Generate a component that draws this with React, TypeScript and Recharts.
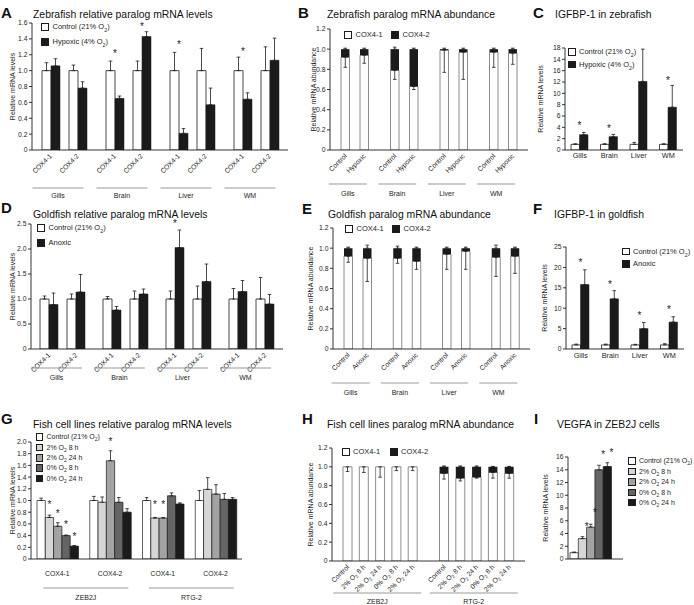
import React from "react";
import { BarChart, Bar, XAxis, YAxis, ErrorBar, LabelList, Legend } from "recharts";

const W = 694;
const H = 605;
const YW = 30;
const FONT = '"Liberation Sans", Arial, Helvetica, sans-serif';
const INK = "#1d1d1d";
const RULE = "#9a9a9a";
const EDGE = "#707070";
const WHITE = "#ffffff";
const BLACK = "#1b1b1b";
const SHADES = ["#ffffff", "#d6d6d6", "#a3a3a3", "#656565", "#1b1b1b"];

// categories and labels
const tissues = ["Gills", "Brain", "Liver", "WM"];
const paralogs = ["COX4-1", "COX4-2"];
const zfGroups = ["Control", "Hypoxic"];
const gfGroups = ["Control", "Anoxic"];
const zfNames = ["Control (21% O2)", "Hypoxic (4% O2)"];
const gfNames = ["Control (21% O2)", "Anoxic"];
const cellLines = ["ZEB2J", "RTG-2"];
const cellBars = ["COX4-1", "COX4-2", "COX4-1", "COX4-2"];
const cellBarLines = ["ZEB2J", "ZEB2J", "RTG-2", "RTG-2"];
const oxygenSeries = ["Control (21% O2)", "2% O2 8 h", "2% O2 24 h", "0% O2 8 h", "0% O2 24 h"];
const hTickLabels = ["Control", "2% O2 8 h", "2% O2 24 h", "0% O2 8 h", "2% O2 24 h"];

// y ticks
const ticksA = [0, 0.2, 0.4, 0.6, 0.8, 1.0, 1.2, 1.4, 1.6];
const ticksShare = [0, 0.2, 0.4, 0.6, 0.8, 1.0, 1.2];
const ticksC = [0, 2, 4, 6, 8, 10, 12, 14, 16, 18];
const tickLabelsC = ["0", "2", "4", "6", "8", "10", "12", "16", "14", "18"];
const ticksD = [0, 0.5, 1.0, 1.5, 2.0, 2.5];
const ticksF = [0, 5, 10, 15, 20, 25];
const ticksG = [0, 0.2, 0.4, 0.6, 0.8, 1.0, 1.2, 1.4, 1.6, 1.8, 2.0];
const ticksI = [0, 2, 4, 6, 8, 10, 12, 14, 16];

// A: zebrafish relative paralog levels
const zfCtl1 = [1.0, 1.0, 1.0, 1.0];
const zfCtl1Err = [0.1, 0.12, 0.23, 0.17];
const zfHyp1 = [1.06, 0.65, 0.21, 0.64];
const zfHyp1Err = [0.09, 0.03, 0.06, 0.08];
const zfCtl2 = [1.0, 1.0, 1.0, 1.0];
const zfCtl2Err = [0.07, 0.12, 0.28, 0.3];
const zfHyp2 = [0.78, 1.43, 0.57, 1.13];
const zfHyp2Err = [0.08, 0.06, 0.21, 0.28];
const zfStar1 = [null, 1.24, 1.35, 1.27];
const zfStar2 = [null, 1.58, null, null];

// B: zebrafish paralog share
const zfShareCtl1 = [0.92, 0.79, 0.99, 0.97];
const zfShareCtl1Err = [0.1, 0.09, 0.22, 0.15];
const zfShareCtl2 = [0.08, 0.21, 0.01, 0.03];
const zfShareCtl2Err = [0.01, 0.02, 0.01, 0.01];
const zfShareHyp1 = [0.94, 0.63, 0.97, 0.96];
const zfShareHyp1Err = [0.08, 0.03, 0.27, 0.11];
const zfShareHyp2 = [0.06, 0.37, 0.03, 0.04];
const zfShareHyp2Err = [0.01, 0.01, 0.01, 0.01];

// C: IGFBP-1 zebrafish
const zfIgCtl = [1.0, 1.0, 1.0, 1.0];
const zfIgCtlErr = [0.1, 0.1, 0.35, 0.1];
const zfIgHyp = [2.7, 2.35, 12.1, 7.55];
const zfIgHypErr = [0.4, 0.4, 5.7, 3.85];
const zfIgStar = [4.7, 4.2, null, 12.65];

// D: goldfish relative paralog levels
const gfCtl1 = [1.0, 1.0, 1.0, 1.0];
const gfCtl1Err = [0.06, 0.05, 0.16, 0.21];
const gfAnx1 = [0.89, 0.78, 2.03, 1.15];
const gfAnx1Err = [0.23, 0.07, 0.35, 0.22];
const gfCtl2 = [1.0, 1.0, 1.0, 1.0];
const gfCtl2Err = [0.1, 0.16, 0.26, 0.43];
const gfAnx2 = [1.14, 1.1, 1.35, 0.9];
const gfAnx2Err = [0.35, 0.1, 0.35, 0.19];
const gfStar1 = [null, null, 2.55, null];
const gfStar2 = [null, null, null, null];

// E: goldfish paralog share
const gfShareCtl1 = [0.92, 0.9, 0.94, 0.91];
const gfShareCtl1Err = [0.06, 0.05, 0.15, 0.19];
const gfShareCtl2 = [0.08, 0.1, 0.06, 0.09];
const gfShareCtl2Err = [0.01, 0.02, 0.01, 0.03];
const gfShareAnx1 = [0.9, 0.87, 0.97, 0.92];
const gfShareAnx1Err = [0.23, 0.08, 0.18, 0.17];
const gfShareAnx2 = [0.1, 0.13, 0.03, 0.08];
const gfShareAnx2Err = [0.03, 0.01, 0.01, 0.01];

// F: IGFBP-1 goldfish
const gfIgCtl = [1.0, 1.0, 1.0, 1.0];
const gfIgCtlErr = [0.2, 0.2, 0.15, 0.3];
const gfIgAnx = [15.8, 12.3, 5.0, 6.6];
const gfIgAnxErr = [3.6, 2.0, 1.5, 1.3];
const gfIgStar = [21.8, 16.3, 8.8, 10.1];

// G: fish cell lines relative levels
const gCtl = [1.0, 1.0, 1.0, 1.0];
const gCtlErr = [0.04, 0.07, 0.05, 0.17];
const gHyp8 = [0.71, 0.97, 0.7, 1.19];
const gHyp8Err = [0.04, 0.09, 0.01, 0.2];
const gHyp24 = [0.56, 1.68, 0.7, 1.11];
const gHyp24Err = [0.06, 0.17, 0.01, 0.16];
const gAnox8 = [0.4, 0.97, 1.08, 1.02];
const gAnox8Err = [0.01, 0.08, 0.05, 0.1];
const gAnox24 = [0.22, 0.8, 0.94, 1.02];
const gAnox24Err = [0.01, 0.06, 0.02, 0.03];
const gCtlStar = [null, null, null, null];
const gHyp8Star = [0.97, null, 0.97, null];
const gHyp24Star = [0.82, 2.05, 0.97, null];
const gAnox8Star = [0.63, null, null, null];
const gAnox24Star = [0.42, null, null, null];

// H: cell line paralog share (per condition)
const zebCox1 = [1.0, 1.0, 1.0, 1.0, 1.0];
const zebCox1Err = [0.05, 0.06, 0.11, 0.04, 0.04];
const zebCox2 = [0, 0, 0, 0, 0];
const zebCox2Err = [0, 0, 0, 0, 0];
const rtgCox1 = [0.93, 0.88, 0.89, 0.94, 0.93];
const rtgCox1Err = [0.06, 0.03, 0.01, 0.06, 0.05];
const rtgCox2 = [0.07, 0.12, 0.11, 0.06, 0.07];
const rtgCox2Err = [0.01, 0.01, 0.01, 0.005, 0.005];

// I: VEGFA in ZEB2J
const vegfMean = [1.0, 3.2, 5.0, 14.0, 14.5];
const vegfErr = [0.1, 0.3, 0.45, 0.7, 0.6];
const vegfStar = [null, 5.4, 7.6, 16.8, 17.0];

// ---- rows ----
const pairRows = (c1: number[], c1e: number[], t1: number[], t1e: number[], c2: number[], c2e: number[], t2: number[], t2e: number[], s1: any[], s2: any[]) =>
  tissues.map((name, i) => ({
    name,
    ctl1: c1[i], ctl1Err: [0, c1e[i]],
    trt1: t1[i], trt1Err: [0, t1e[i]],
    gap: 0,
    ctl2: c2[i], ctl2Err: [0, c2e[i]],
    trt2: t2[i], trt2Err: [0, t2e[i]],
    star1: s1[i], star2: s2[i],
  }));

const shareRows = (c1: number[], c1e: number[], c2: number[], c2e: number[], t1: number[], t1e: number[], t2: number[], t2e: number[]) =>
  tissues.map((name, i) => ({
    name,
    ctl1: c1[i], ctl1Err: [c1e[i], 0],
    ctl2: c2[i], ctl2Err: [0, c2e[i]],
    trt1: t1[i], trt1Err: [t1e[i], 0],
    trt2: t2[i], trt2Err: [0, t2e[i]],
  }));

const twoRows = (c: number[], ce: number[], t: number[], te: number[], s: any[]) =>
  tissues.map((name, i) => ({ name, ctl: c[i], ctlErr: [0, ce[i]], trt: t[i], trtErr: [0, te[i]], star: s[i] }));

const rowsA = pairRows(zfCtl1, zfCtl1Err, zfHyp1, zfHyp1Err, zfCtl2, zfCtl2Err, zfHyp2, zfHyp2Err, zfStar1, zfStar2);
const rowsB = shareRows(zfShareCtl1, zfShareCtl1Err, zfShareCtl2, zfShareCtl2Err, zfShareHyp1, zfShareHyp1Err, zfShareHyp2, zfShareHyp2Err);
const rowsC = twoRows(zfIgCtl, zfIgCtlErr, zfIgHyp, zfIgHypErr, zfIgStar);
const rowsD = pairRows(gfCtl1, gfCtl1Err, gfAnx1, gfAnx1Err, gfCtl2, gfCtl2Err, gfAnx2, gfAnx2Err, gfStar1, gfStar2);
const rowsE = shareRows(gfShareCtl1, gfShareCtl1Err, gfShareCtl2, gfShareCtl2Err, gfShareAnx1, gfShareAnx1Err, gfShareAnx2, gfShareAnx2Err);
const rowsF = twoRows(gfIgCtl, gfIgCtlErr, gfIgAnx, gfIgAnxErr, gfIgStar);

const gMeans = [gCtl, gHyp8, gHyp24, gAnox8, gAnox24];
const gErrs = [gCtlErr, gHyp8Err, gHyp24Err, gAnox8Err, gAnox24Err];
const gStars = [gCtlStar, gHyp8Star, gHyp24Star, gAnox8Star, gAnox24Star];
const rowsG = cellBars.map((gene, i) => {
  const row: any = { name: `${cellBarLines[i]} ${gene}` };
  gMeans.forEach((m, k) => {
    row[`s${k}`] = m[i];
    row[`s${k}Err`] = [0, gErrs[k][i]];
    row[`s${k}Star`] = gStars[k][i];
  });
  return row;
});

const lineShares = [
  [zebCox1, zebCox1Err, zebCox2, zebCox2Err],
  [rtgCox1, rtgCox1Err, rtgCox2, rtgCox2Err],
];
const rowsH = cellLines.map((name, j) => {
  const [a, ae, b, be] = lineShares[j];
  const row: any = { name };
  hTickLabels.forEach((_, k) => {
    row[`c${k}a`] = a[k];
    row[`c${k}aErr`] = [ae[k], 0];
    row[`c${k}b`] = b[k];
    row[`c${k}bErr`] = [0, be[k]];
  });
  return row;
});

const rowsI = [cellLines[0]].map((name) => {
  const row: any = { name };
  vegfMean.forEach((v, k) => {
    row[`s${k}`] = v;
    row[`s${k}Err`] = [0, vegfErr[k]];
    row[`s${k}Star`] = vegfStar[k];
  });
  return row;
});

// ---- layout helpers ----
type Box = { x: number; y: number; w: number; h: number };
const frame = (b: Box) => ({
  margin: { top: b.y, left: b.x - YW, right: W - b.x - b.w, bottom: 0 },
  xh: H - b.y - b.h,
});

const boxA = { x: 32, y: 23, w: 256, h: 127 };
const boxB = { x: 330, y: 29, w: 198, h: 121 };
const boxC = { x: 565, y: 48, w: 118, h: 102 };
const boxD = { x: 31, y: 224, w: 252, h: 125 };
const boxE = { x: 333, y: 228, w: 197, h: 121 };
const boxF = { x: 566, y: 247, w: 118, h: 102 };
const boxG = { x: 31, y: 442, w: 211, h: 117 };
const boxH = { x: 332, y: 448, w: 193, h: 113 };
const boxI = { x: 568, y: 457, w: 55, h: 102 };

const fmt1 = (v: number) => (v === 0 ? "0" : v.toFixed(1));
const fmtInt = (v: number) => String(v);
const fmtC = (v: number) => tickLabelsC[ticksC.indexOf(v)] ?? String(v);

const axisLine = { stroke: INK, strokeWidth: 0.9 };
const errProps = { width: 1.8, stroke: INK, strokeWidth: 0.8 };

const yAxisProps = (ticks: number[], fmt: (v: number) => string) => ({
  type: "number" as const,
  domain: [ticks[0], ticks[ticks.length - 1]],
  ticks,
  interval: 0 as const,
  width: YW,
  tickSize: 3,
  tickMargin: 1.5,
  tickFormatter: fmt,
  tick: { fontSize: 6.8, fill: INK, fontFamily: FONT },
  axisLine,
  tickLine: axisLine,
  allowDataOverflow: true,
});

function htmlO2(s: string) {
  const parts = s.split("O2");
  return parts.map((p, i) => (
    <React.Fragment key={i}>
      {p}
      {i < parts.length - 1 && (
        <>
          O<sub style={{ fontSize: "0.7em", lineHeight: 0 }}>2</sub>
        </>
      )}
    </React.Fragment>
  ));
}

function svgO2(s: string) {
  const parts = s.split("O2");
  if (parts.length === 1) return s;
  const out: React.ReactNode[] = [];
  parts.forEach((p, i) => {
    out.push(
      <tspan key={`t${i}`} dy={i === 0 ? 0 : -1.5}>
        {p + (i < parts.length - 1 ? "O" : "")}
      </tspan>
    );
    if (i < parts.length - 1) {
      out.push(
        <tspan key={`s${i}`} fontSize="0.72em" dy={1.5}>
          2
        </tspan>
      );
    }
  });
  return out;
}

// legend entries are picked from the payload by series name, in the order given
const swatches = (names: string[], dir: "row" | "column", rowH: number, sq: number, fs: number, gap: number) =>
  function SwatchLegend(props: any) {
    const payload: any[] = props.payload ?? [];
    const items = names.map((n) => payload.find((e) => e.value === n)).filter(Boolean);
    return (
      <div style={{ display: "flex", flexDirection: dir, columnGap: gap, fontFamily: FONT, fontSize: fs, color: INK, whiteSpace: "nowrap", lineHeight: 1 }}>
        {items.map((e: any) => (
          <div key={String(e.value)} style={{ display: "flex", alignItems: "center", height: rowH }}>
            <span style={{ width: sq, height: sq, background: e.color, border: `0.8px solid ${INK}`, boxSizing: "border-box", marginRight: 3.5, flex: "none" }} />
            <span>{htmlO2(String(e.value))}</span>
          </div>
        ))}
      </div>
    );
  };

const legendAt = (left: number, top: number) => ({ left, top, width: "auto" });

// asterisk placed from the bar's own scale
const starOf = (starKey: string, barKey: string) => (d: any) => (d[starKey] == null ? null : [d[starKey], d[barKey]]);
const starLabel = (where: "edge" | "mid") =>
  function Star(p: any) {
    const v = p.value;
    if (!Array.isArray(v)) return null;
    const [level, bar] = v;
    const vb = p.viewBox ?? p;
    if (!vb || !bar) return null;
    const bottom = vb.y + vb.height;
    const cy = bottom - (vb.height / bar) * level;
    const cx = where === "edge" ? vb.x + vb.width : vb.x + vb.width / 2;
    return (
      <text x={cx} y={cy + 5.6} textAnchor="middle" fontSize={10} fill={INK} fontFamily={FONT}>
        *
      </text>
    );
  };

const groupTick = (subs: string[], step: number, lineFrom: number, lineTo: number, lineDy: number, nameDy: number) =>
  function GroupTick(p: any) {
    const { x, y } = p;
    const n = subs.length;
    return (
      <g>
        {subs.map((s, i) => (
          <text
            key={i}
            transform={`translate(${x + (i - (n - 1) / 2) * step + 2},${y + 6.5}) rotate(-45)`}
            textAnchor="end"
            fontSize={6.8}
            fill={INK}
            fontFamily={FONT}
          >
            {svgO2(s)}
          </text>
        ))}
        <line x1={x + lineFrom} x2={x + lineTo} y1={y + lineDy} y2={y + lineDy} stroke={RULE} strokeWidth={1.2} />
        <text x={x + (lineFrom + lineTo) / 2} y={y + nameDy} textAnchor="middle" fontSize={7} fill={INK} fontFamily={FONT}>
          {p.payload?.value}
        </text>
      </g>
    );
  };

function CellTick(p: any) {
  const i = p.index ?? p.payload?.index ?? 0;
  const first = i % 2 === 0;
  return (
    <g fontFamily={FONT} fill={INK}>
      <text x={p.x} y={p.y + 17} textAnchor="middle" fontSize={6.8}>
        {cellBars[i]}
      </text>
      {first && (
        <>
          <line x1={p.x - 14} x2={p.x + 71} y1={p.y + 29} y2={p.y + 29} stroke={RULE} strokeWidth={1.2} />
          <text x={p.x + 28.5} y={p.y + 41} textAnchor="middle" fontSize={7}>
            {cellBarLines[i]}
          </text>
        </>
      )}
    </g>
  );
}

const Layer = ({ children }: any) => <div style={{ position: "absolute", left: 0, top: 0 }}>{children}</div>;

// ---- panels ----
function PairedPanel({ rows, box, ticks, names, legend, lineDy, nameDy }: any) {
  const f = frame(box);
  return (
    <Layer>
      <BarChart width={W} height={H} data={rows} margin={f.margin} barSize={9} barGap={0}>
        <XAxis dataKey="name" height={f.xh} interval={0} tickLine={false} tickSize={0} tickMargin={0} axisLine={axisLine}
          tick={groupTick(paralogs, 27, -31.5, 19.5, lineDy, nameDy)} />
        <YAxis {...yAxisProps(ticks, fmt1)} />
        <Legend layout="horizontal" verticalAlign="middle" align="center" wrapperStyle={legend} content={swatches(names, "column", 14.5, 8, 7.5, 0)} />
        <Bar dataKey="ctl1" name={names[0]} fill={WHITE} stroke={INK} strokeWidth={0.8} isAnimationActive={false}>
          <ErrorBar dataKey="ctl1Err" {...errProps} />
          <LabelList dataKey={starOf("star1", "ctl1")} content={starLabel("edge")} />
        </Bar>
        <Bar dataKey="trt1" name={names[1]} fill={BLACK} stroke={BLACK} strokeWidth={0.5} isAnimationActive={false}>
          <ErrorBar dataKey="trt1Err" {...errProps} />
        </Bar>
        <Bar dataKey="gap" fill="none" legendType="none" isAnimationActive={false} />
        <Bar dataKey="ctl2" fill={WHITE} stroke={INK} strokeWidth={0.8} legendType="none" isAnimationActive={false}>
          <ErrorBar dataKey="ctl2Err" {...errProps} />
          <LabelList dataKey={starOf("star2", "ctl2")} content={starLabel("edge")} />
        </Bar>
        <Bar dataKey="trt2" fill={BLACK} stroke={BLACK} strokeWidth={0.5} legendType="none" isAnimationActive={false}>
          <ErrorBar dataKey="trt2Err" {...errProps} />
        </Bar>
      </BarChart>
    </Layer>
  );
}

function SharePanel({ rows, box, groups, legend }: any) {
  const f = frame(box);
  return (
    <Layer>
      <BarChart width={W} height={H} data={rows} margin={f.margin} barSize={8.5} barGap={10.5}>
        <XAxis dataKey="name" height={f.xh} interval={0} tickLine={false} tickSize={0} tickMargin={0} axisLine={axisLine}
          tick={groupTick(groups, 19, -26, 12, 34, 45.5)} />
        <YAxis {...yAxisProps(ticksShare, fmt1)} />
        <Legend layout="horizontal" verticalAlign="middle" align="center" wrapperStyle={legend} content={swatches(paralogs, "row", 14, 8, 7.5, 8.5)} />
        <Bar dataKey="ctl1" stackId="ctl" name={paralogs[0]} fill={WHITE} stroke={EDGE} strokeWidth={0.8} isAnimationActive={false}>
          <ErrorBar dataKey="ctl1Err" {...errProps} />
        </Bar>
        <Bar dataKey="ctl2" stackId="ctl" name={paralogs[1]} fill={BLACK} isAnimationActive={false}>
          <ErrorBar dataKey="ctl2Err" {...errProps} />
        </Bar>
        <Bar dataKey="trt1" stackId="trt" legendType="none" fill={WHITE} stroke={EDGE} strokeWidth={0.8} isAnimationActive={false}>
          <ErrorBar dataKey="trt1Err" {...errProps} />
        </Bar>
        <Bar dataKey="trt2" stackId="trt" legendType="none" fill={BLACK} isAnimationActive={false}>
          <ErrorBar dataKey="trt2Err" {...errProps} />
        </Bar>
      </BarChart>
    </Layer>
  );
}

function IgfbpPanel({ rows, box, ticks, fmt, names, legend, labelGap }: any) {
  const f = frame(box);
  return (
    <Layer>
      <BarChart width={W} height={H} data={rows} margin={f.margin} barSize={8.5} barGap={0}>
        <XAxis dataKey="name" height={f.xh} interval={0} tickLine={false} tickSize={0} tickMargin={labelGap} axisLine={axisLine}
          tick={{ fontSize: 7.3, fill: INK, fontFamily: FONT }} />
        <YAxis {...yAxisProps(ticks, fmt)} />
        <Legend layout="horizontal" verticalAlign="middle" align="center" wrapperStyle={legend} content={swatches(names, "column", 12.5, 7.5, 7.5, 0)} />
        <Bar dataKey="ctl" name={names[0]} fill={WHITE} stroke={INK} strokeWidth={0.8} isAnimationActive={false}>
          <ErrorBar dataKey="ctlErr" {...errProps} />
          <LabelList dataKey={starOf("star", "ctl")} content={starLabel("edge")} />
        </Bar>
        <Bar dataKey="trt" name={names[1]} fill={BLACK} stroke={BLACK} strokeWidth={0.5} isAnimationActive={false}>
          <ErrorBar dataKey="trtErr" {...errProps} />
        </Bar>
      </BarChart>
    </Layer>
  );
}

function OxygenPanel({ rows, box, ticks, fmt, legend, tick, starAt, padRight }: any) {
  const f = frame(box);
  return (
    <Layer>
      <BarChart width={W} height={H} data={rows} margin={f.margin} barSize={8.3} barGap={0}>
        <XAxis dataKey="name" height={f.xh} interval={0} tickLine={false} tickSize={0} tickMargin={0} axisLine={axisLine}
          tick={tick} padding={{ left: 0, right: padRight }} />
        <YAxis {...yAxisProps(ticks, fmt)} />
        <Legend layout="horizontal" verticalAlign="middle" align="center" wrapperStyle={legend} content={swatches(oxygenSeries, "column", 10.4, 7.5, 7, 0)} />
        {oxygenSeries.map((name, k) => (
          <Bar key={name} dataKey={`s${k}`} name={name} fill={SHADES[k]} stroke={INK} strokeWidth={0.7} isAnimationActive={false}>
            <ErrorBar dataKey={`s${k}Err`} {...errProps} />
            <LabelList dataKey={starOf(`s${k}Star`, `s${k}`)} content={starLabel(starAt)} />
          </Bar>
        ))}
      </BarChart>
    </Layer>
  );
}

function LineSharePanel({ rows, box, legend }: any) {
  const f = frame(box);
  return (
    <Layer>
      <BarChart width={W} height={H} data={rows} margin={f.margin} barSize={9} barGap={7.3}>
        <XAxis dataKey="name" height={f.xh} interval={0} tickLine={false} tickSize={0} tickMargin={0} axisLine={axisLine}
          tick={groupTick(hTickLabels, 16.3, -47, 41, 32, 43)} />
        <YAxis {...yAxisProps(ticksShare, fmt1)} />
        <Legend layout="horizontal" verticalAlign="middle" align="center" wrapperStyle={legend} content={swatches(paralogs, "row", 14, 7.5, 7.5, 10)} />
        {hTickLabels.flatMap((_, k) => [
          <Bar key={`a${k}`} dataKey={`c${k}a`} stackId={`c${k}`} name={k === 0 ? paralogs[0] : `a${k}`} legendType={k === 0 ? "square" : "none"}
            fill={WHITE} stroke={EDGE} strokeWidth={0.8} isAnimationActive={false}>
            <ErrorBar dataKey={`c${k}aErr`} {...errProps} />
          </Bar>,
          <Bar key={`b${k}`} dataKey={`c${k}b`} stackId={`c${k}`} name={k === 0 ? paralogs[1] : `b${k}`} legendType={k === 0 ? "square" : "none"}
            fill={BLACK} isAnimationActive={false}>
            <ErrorBar dataKey={`c${k}bErr`} {...errProps} />
          </Bar>,
        ])}
      </BarChart>
    </Layer>
  );
}

const captions = [
  { letter: "A", lx: 1, ly: 17.5, title: "Zebrafish relative paralog mRNA levels", tx: 33, ty: 17.5, ylab: "Relative mRNA levels", yx: 12, box: boxA },
  { letter: "B", lx: 298, ly: 17.5, title: "Zebrafish paralog mRNA abundance", tx: 327, ty: 17.5, ylab: "Relative mRNA abundance", yx: 313, box: boxB },
  { letter: "C", lx: 533, ly: 17.5, title: "IGFBP-1 in zebrafish", tx: 555, ty: 17.5, ylab: "Relative mRNA levels", yx: 540, box: boxC },
  { letter: "D", lx: 1, ly: 213, title: "Goldfish relative paralog mRNA levels", tx: 33, ty: 217.5, ylab: "Relative mRNA levels", yx: 12, box: boxD },
  { letter: "E", lx: 302, ly: 214, title: "Goldfish paralog mRNA abundance", tx: 328, ty: 217.5, ylab: "Relative mRNA abundance", yx: 310, box: boxE },
  { letter: "F", lx: 533, ly: 214, title: "IGFBP-1 in goldfish", tx: 554, ty: 217.5, ylab: "Relative mRNA levels", yx: 544, box: boxF },
  { letter: "G", lx: 1, ly: 423.5, title: "Fish cell lines relative paralog mRNA levels", tx: 33, ty: 428, ylab: "Relative mRNA levels", yx: 12, box: boxG },
  { letter: "H", lx: 302, ly: 424, title: "Fish cell lines paralog mRNA abundance", tx: 327, ty: 428, ylab: "Relative mRNA abundance", yx: 310, box: boxH },
  { letter: "I", lx: 534, ly: 424, title: "VEGFA in ZEB2J cells", tx: 557, ty: 428, ylab: "Relative mRNA levels", yx: 545, box: boxI },
];

function Captions() {
  return (
    <svg width={W} height={H} style={{ position: "absolute", left: 0, top: 0 }} fontFamily={FONT}>
      {captions.map((c) => (
        <g key={c.letter}>
          <text x={c.lx} y={c.ly} fontSize={15} fontWeight="bold" fill="#111">
            {c.letter}
          </text>
          <text x={c.tx} y={c.ty} fontSize={10.4} fill="#111">
            {c.title}
          </text>
          <text transform={`translate(${c.yx + 2.5},${c.box.y + c.box.h / 2}) rotate(-90)`} textAnchor="middle" fontSize={7} fill={INK}>
            {c.ylab}
          </text>
        </g>
      ))}
    </svg>
  );
}

export default function App() {
  return (
    <div style={{ position: "absolute", left: 0, top: 0, width: W, height: H, background: "#fff", fontFamily: FONT, overflow: "hidden" }}>
      <Captions />
      <PairedPanel rows={rowsA} box={boxA} ticks={ticksA} names={zfNames} legend={legendAt(41, 19.75)} lineDy={38} nameDy={48} />
      <SharePanel rows={rowsB} box={boxB} groups={zfGroups} legend={legendAt(344, 27.5)} />
      <IgfbpPanel rows={rowsC} box={boxC} ticks={ticksC} fmt={fmtC} names={zfNames} legend={legendAt(568, 45.75)} labelGap={3} />
      <PairedPanel rows={rowsD} box={boxD} ticks={ticksD} names={gfNames} legend={legendAt(37, 220.75)} lineDy={19} nameDy={31} />
      <SharePanel rows={rowsE} box={boxE} groups={gfGroups} legend={legendAt(345, 222)} />
      <IgfbpPanel rows={rowsF} box={boxF} ticks={ticksF} fmt={fmtInt} names={gfNames} legend={legendAt(622, 245.25)} labelGap={4} />
      <OxygenPanel rows={rowsG} box={boxG} ticks={ticksG} fmt={fmt1} legend={legendAt(35.5, 431.8)} tick={CellTick} starAt="mid" padRight={0} />
      <LineSharePanel rows={rowsH} box={boxH} legend={legendAt(342, 445)} />
      <OxygenPanel rows={rowsI} box={boxI} ticks={ticksI} fmt={fmtInt} legend={legendAt(628, 455.9)} tick={false} starAt="edge" padRight={10} />
    </div>
  );
}
